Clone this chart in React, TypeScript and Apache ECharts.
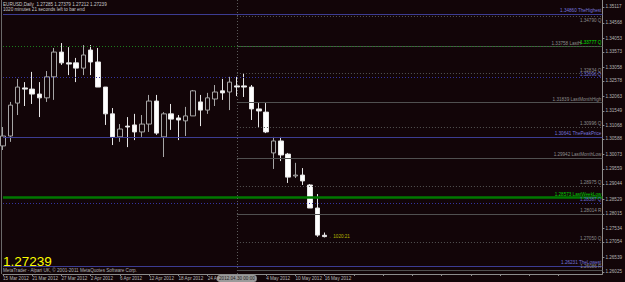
import React, { useEffect, useRef } from 'react';
import * as echarts from 'echarts';

const dates = [
  '15 Mar 2012', '16 Mar 2012', '19 Mar 2012', '20 Mar 2012', '21 Mar 2012', '22 Mar 2012', '23 Mar 2012',
  '26 Mar 2012', '27 Mar 2012', '28 Mar 2012', '29 Mar 2012', '30 Mar 2012', '2 Apr 2012', '3 Apr 2012',
  '4 Apr 2012', '5 Apr 2012', '6 Apr 2012', '9 Apr 2012', '10 Apr 2012', '11 Apr 2012', '12 Apr 2012',
  '13 Apr 2012', '16 Apr 2012', '17 Apr 2012', '18 Apr 2012', '19 Apr 2012', '20 Apr 2012', '23 Apr 2012',
  '24 Apr 2012', '25 Apr 2012', '26 Apr 2012', '27 Apr 2012', '30 Apr 2012', '1 May 2012', '2 May 2012',
  '3 May 2012', '4 May 2012', '7 May 2012', '8 May 2012', '9 May 2012', '10 May 2012', '11 May 2012',
  '14 May 2012', '15 May 2012', '16 May 2012',
];

const openPrices = [
  1.3035, 1.3069, 1.3182, 1.3234, 1.3230, 1.3213, 1.3200, 1.3272, 1.3357, 1.3320, 1.3320, 1.3302, 1.3364, 1.3323,
  1.3237, 1.3145, 1.3066, 1.3103, 1.3107, 1.3083, 1.3110, 1.3189, 1.3066, 1.3145, 1.3131, 1.3121, 1.3138, 1.3186,
  1.3158, 1.3196, 1.3224, 1.3220, 1.3241, 1.3241, 1.3237, 1.3162, 1.3151, 1.3011, 1.3052, 1.3007, 1.2932, 1.2935,
  1.2901, 1.2822, 1.27285,
];
const closePrices = [
  1.3069, 1.3175, 1.3237, 1.3230, 1.3213, 1.3200, 1.3272, 1.3357, 1.3320, 1.3316, 1.3302, 1.3347, 1.3323, 1.3237,
  1.3145, 1.3066, 1.3093, 1.3100, 1.3083, 1.3110, 1.3189, 1.3079, 1.3145, 1.3127, 1.3124, 1.3138, 1.3224, 1.3158,
  1.3200, 1.3220, 1.3217, 1.3254, 1.3237, 1.3237, 1.3162, 1.3155, 1.3083, 1.3052, 1.3004, 1.2928, 1.2935, 1.2915,
  1.2822, 1.2729, 1.27239,
];
const lowPrices = [
  1.3021, 1.3049, 1.3141, 1.3172, 1.3179, 1.3134, 1.3186, 1.3193, 1.3313, 1.3278, 1.3254, 1.3278, 1.3278, 1.3237,
  1.3107, 1.3038, 1.3049, 1.3031, 1.3055, 1.3066, 1.3083, 1.3073, 1.2997, 1.3090, 1.3055, 1.3069, 1.3138, 1.3103,
  1.3145, 1.3172, 1.3193, 1.3158, 1.3206, 1.3203, 1.3124, 1.3097, 1.3079, 1.2956, 1.2983, 1.2908, 1.2925, 1.2901,
  1.2822, 1.2723, 1.27212,
];
const highPrices = [
  1.3100, 1.3186, 1.3265, 1.3254, 1.3289, 1.3254, 1.3292, 1.3371, 1.3388, 1.3374, 1.3337, 1.3381, 1.3381, 1.3371,
  1.3237, 1.3165, 1.3110, 1.3134, 1.3145, 1.3141, 1.3210, 1.3210, 1.3151, 1.3179, 1.3141, 1.3169, 1.3227, 1.3210,
  1.3217, 1.3244, 1.3265, 1.3272, 1.3272, 1.3285, 1.3244, 1.3182, 1.3182, 1.3066, 1.3066, 1.3011, 1.2977, 1.2959,
  1.2904, 1.2870, 1.27379,
];

const yTickValues = [
  1.26025, 1.26539, 1.27054, 1.27534, 1.28015, 1.28529, 1.29044, 1.29559, 1.30073, 1.30588, 1.31068, 1.31549,
  1.32063, 1.32578, 1.33058, 1.33573, 1.34053, 1.34568, 1.35117,
];

const levelPrices = [
  1.34860, 1.34790, 1.33758, 1.33777, 1.32834, 1.32696, 1.31839, 1.30996, 1.30641, 1.29942, 1.28975, 1.28573,
  1.28387, 1.28014, 1.27050, 1.26231, 1.26086,
];
const levelNames = [
  'TheHighest', 'Q', 'LastH', 'Q', 'Q', 'Q', 'LastMonthHigh', 'Q', 'ThePeakPrice', 'LastMonthLow', 'Q',
  'LastWeekLow', 'Q', 'R', 'Q', 'TheLowest', 'R',
];

const symbolName = 'EURUSD,Daily';
const timeLeft = '1020 minutes 21 seconds left to bar end';
const timerText = '1020:21';
const monthStartIndex = 32;
const monthStartStamp = '2012.04.30 00:00';
const futureSlots = 38;

// style kinds per level (presentation only)
const levelKinds = [
  'purple', 'grayDot', 'gray', 'greenDot', 'grayDot', 'blueDot', 'gray', 'grayDot', 'purple', 'gray', 'grayDot',
  'green', 'blueDot', 'gray', 'grayDot', 'purple', 'gray',
];

const BG = '#120508';
const FONT = '"Liberation Sans", Arial, sans-serif';
const FS = 4.6;

const kindStyle: Record<string, any> = {
  purple: { line: { color: '#3c3c92', width: 1, type: 'solid' }, text: '#7474dc', full: true },
  gray: { line: { color: '#505050', width: 1, type: 'solid' }, text: '#8c8c8c', full: false },
  grayDot: { line: { color: '#555555', width: 1, type: [1, 2] }, text: '#8c8c8c', full: false },
  greenDot: { line: { color: '#1c7c1c', width: 1, type: [1, 2] }, text: '#00e000', full: true },
  blueDot: { line: { color: '#3434a0', width: 1, type: [1, 2] }, text: '#6a6ad0', full: true },
  green: { line: { color: '#007800', width: 2.5, type: 'solid' }, text: '#00d000', full: true },
};

export default function App() {
  const ref = useRef<HTMLDivElement>(null);
  useEffect(() => {
    if (!ref.current) return;
    const chart = echarts.init(ref.current, null, { renderer: 'svg' });
    const n = dates.length;
    const categories = [...dates, ...Array.from({ length: futureSlots }, () => '')];
    const lastIndex = categories.length - 1;
    const candleData = dates.map((_, i) => [openPrices[i], closePrices[i], lowPrices[i], highPrices[i]]);

    const markLines: any[] = levelPrices.map((p, i) => {
      const ks = kindStyle[levelKinds[i]];
      const below = i === 1;
      const label = {
        show: true,
        position: below ? 'insideEndBottom' : 'insideEndTop',
        formatter: `${p.toFixed(5)} ${levelNames[i]}`,
        color: ks.text,
        fontSize: FS,
        fontFamily: FONT,
        distance: [1, 1],
        padding: i === 2 ? [0, 20, 0, 0] : 0,
      };
      if (ks.full) {
        return { yAxis: p, lineStyle: ks.line, label };
      }
      return [
        { coord: [monthStartIndex, p], lineStyle: ks.line, label },
        { coord: [lastIndex, p] },
      ];
    });
    const lastClose = closePrices[n - 1];
    markLines.push({
      yAxis: lastClose,
      lineStyle: { opacity: 0 },
      label: {
        show: true,
        position: 'end',
        formatter: lastClose.toFixed(5),
        backgroundColor: '#ffffff',
        color: '#000000',
        fontSize: FS,
        fontFamily: FONT,
        padding: [1, 2],
        distance: 1,
      },
    });
    markLines.push({
      xAxis: monthStartIndex,
      lineStyle: { color: '#5a5a5a', width: 1, type: [1, 2] },
      label: { show: false },
    });

    const header = `${symbolName}  ${openPrices[n - 1].toFixed(5)} ${highPrices[n - 1].toFixed(5)} ${lowPrices[n - 1].toFixed(5)} ${closePrices[n - 1].toFixed(5)}`;

    chart.setOption({
      animation: false,
      backgroundColor: BG,
      grid: { left: 1, right: 17, top: 0, bottom: 8, containLabel: false },
      xAxis: {
        type: 'category',
        data: categories,
        boundaryGap: false,
        axisLine: { show: true, lineStyle: { color: '#8c8c8c', width: 1 } },
        axisTick: { show: true, interval: 3, length: 2, lineStyle: { color: '#8c8c8c' } },
        axisLabel: {
          show: true,
          interval: 3,
          align: 'left',
          margin: 2,
          color: '#b4b4b4',
          fontSize: FS,
          fontFamily: FONT,
          showMinLabel: true,
          showMaxLabel: false,
          formatter: (v: string, idx: number) => (idx === monthStartIndex ? '' : v),
        },
        splitLine: { show: false },
        axisPointer: {
          show: true,
          status: 'show',
          value: monthStartIndex,
          triggerTooltip: false,
          type: 'line',
          lineStyle: { opacity: 0 },
          label: {
            show: true,
            formatter: monthStartStamp,
            backgroundColor: '#9a9a9a',
            color: '#202020',
            fontSize: FS,
            fontFamily: FONT,
            padding: [1, 2],
            margin: 1,
          },
        },
      },
      yAxis: {
        type: 'value',
        position: 'right',
        min: 1.25956,
        max: 1.35357,
        scale: true,
        axisLine: { show: true, lineStyle: { color: '#8c8c8c', width: 1 } },
        axisTick: { show: true, length: 2, customValues: yTickValues, lineStyle: { color: '#8c8c8c' } },
        axisLabel: {
          show: true,
          customValues: yTickValues,
          formatter: (v: number) => v.toFixed(5),
          color: '#b4b4b4',
          fontSize: FS,
          fontFamily: FONT,
          margin: 3,
        },
        splitLine: { show: false },
      },
      axisPointer: { triggerOn: 'none' },
      series: [
        {
          type: 'candlestick',
          data: candleData,
          barWidth: 5,
          itemStyle: {
            color: BG,
            borderColor: '#a6a6a6',
            color0: '#ffffff',
            borderColor0: '#e6e6e6',
            borderWidth: 1,
          },
          markLine: {
            silent: true,
            symbol: ['none', 'none'],
            precision: 5,
            data: markLines,
          },
          markPoint: {
            silent: true,
            symbol: 'circle',
            symbolSize: 0.1,
            data: [
              {
                coord: [n - 1, lastClose],
                label: {
                  show: true,
                  position: 'right',
                  distance: 4,
                  formatter: '\u2190' + timerText,
                  color: '#b4b400',
                  fontSize: FS,
                  fontFamily: FONT,
                },
              },
            ],
          },
        },
      ],
      graphic: [
        {
          type: 'line',
          shape: { x1: 1.5, y1: 0, x2: 1.5, y2: 274 },
          style: { stroke: '#6a6a6a', lineWidth: 1 },
          silent: true,
        },
        {
          type: 'text',
          left: 3,
          top: 2,
          silent: true,
          style: { text: header, fill: '#c8c8c8', fontSize: FS, fontFamily: FONT },
        },
        {
          type: 'text',
          left: 3,
          top: 7,
          silent: true,
          style: { text: timeLeft, fill: '#c8c8c8', fontSize: FS, fontFamily: FONT },
        },
        {
          type: 'text',
          left: 3,
          top: 254.5,
          silent: true,
          style: { text: lastClose.toFixed(5), fill: '#ffff00', fontSize: 13.5, fontFamily: FONT },
        },
        {
          type: 'text',
          left: 3,
          top: 268,
          silent: true,
          style: {
            text: 'MetaTrader - Alpari UK, \u00a9 2001-2011 MetaQuotes Software Corp.',
            fill: '#b0b0b0',
            fontSize: FS,
            fontFamily: FONT,
          },
        },
      ],
    });
    return () => chart.dispose();
  }, []);
  return (
    <div
      ref={ref}
      style={{ position: 'fixed', left: 0, top: 0, width: 625, height: 282, background: BG }}
    />
  );
}
